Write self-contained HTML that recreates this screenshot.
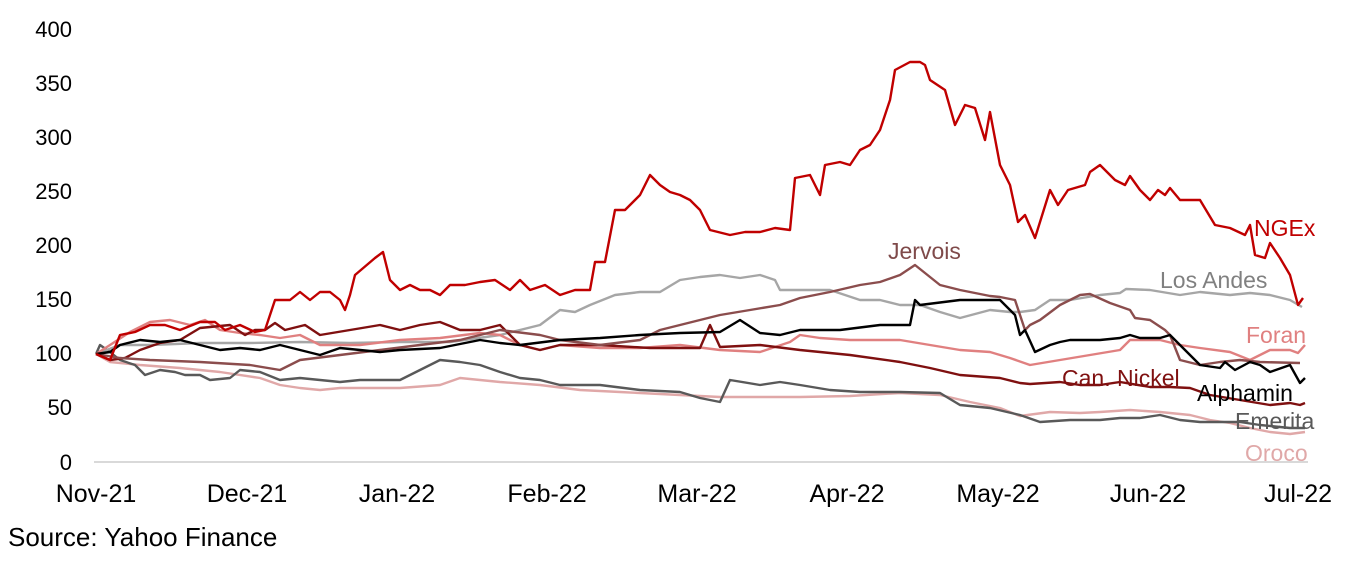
<!DOCTYPE html>
<html><head><style>
body{margin:0;background:#fff;}
svg text{font-family:"Liberation Sans",Arial,sans-serif;}
</style></head><body>
<svg width="1356" height="579" viewBox="0 0 1356 579" xmlns="http://www.w3.org/2000/svg">
<g font-size="22" fill="#000" text-anchor="end">
<text x="72" y="37">400</text><text x="72" y="91">350</text><text x="72" y="145">300</text>
<text x="72" y="199">250</text><text x="72" y="253">200</text><text x="72" y="307">150</text>
<text x="72" y="361">100</text><text x="72" y="415">50</text><text x="72" y="470">0</text>
</g>
<line x1="94" y1="462" x2="1308" y2="462" stroke="#d9d9d9" stroke-width="2"/>
<g font-size="25" fill="#000" text-anchor="middle">
<text x="96" y="502">Nov-21</text><text x="247" y="502">Dec-21</text><text x="397" y="502">Jan-22</text>
<text x="547" y="502">Feb-22</text><text x="697" y="502">Mar-22</text><text x="847" y="502">Apr-22</text>
<text x="998" y="502">May-22</text><text x="1148" y="502">Jun-22</text><text x="1298" y="502">Jul-22</text>
</g>
<text x="8" y="546" font-size="26">Source: Yahoo Finance</text>
<g fill="none" stroke-width="2.4" stroke-linejoin="round">
<polyline stroke="#e0a8a8" points="96,354 110,362 140,365 180,368 220,372 260,378 280,385 300,388 320,390 340,388 360,388 400,388 440,385 460,378 480,380 500,382 540,385 580,390 620,392 680,395 720,397 760,397 800,397 850,396 900,393 940,395 970,402 1000,408 1020,416 1050,412 1080,413 1100,412 1130,410 1160,412 1190,415 1210,420 1230,423 1250,428 1270,432 1290,434 1305,432"/>
<polyline stroke="#595959" points="96,354 100,345 110,352 120,360 135,365 145,375 160,370 175,372 185,375 200,375 210,380 230,378 240,370 260,372 280,380 300,378 320,380 340,382 360,380 400,380 420,370 440,360 460,362 480,365 500,372 520,378 540,380 560,385 600,385 640,390 680,392 700,398 720,402 730,380 760,385 780,382 800,385 830,390 860,392 900,392 940,393 960,405 990,408 1020,415 1040,422 1070,420 1100,420 1120,418 1140,418 1160,415 1180,420 1200,422 1240,422 1260,425 1290,428 1305,428"/>
<polyline stroke="#a6a6a6" points="96,354 120,345 150,345 200,343 250,343 300,342 350,343 400,342 450,342 500,335 540,325 560,310 575,312 590,305 615,295 640,292 660,292 680,280 700,277 720,275 740,278 760,275 775,280 780,290 830,290 860,300 880,300 900,305 920,305 940,312 960,318 990,310 1010,312 1020,312 1035,310 1050,300 1070,300 1100,295 1120,293 1126,289 1150,290 1180,295 1200,292 1230,295 1250,293 1270,295 1290,300 1302,307"/>
<polyline stroke="#e08080" points="96,354 110,345 130,332 150,322 170,320 190,325 205,320 220,330 240,333 260,335 280,338 300,335 320,345 360,345 400,340 440,338 480,333 500,335 520,345 540,350 560,345 600,348 640,348 680,345 720,350 760,352 790,342 800,335 820,338 850,340 900,340 930,345 960,350 990,352 1010,358 1030,365 1060,360 1090,355 1120,350 1130,340 1160,340 1180,345 1200,348 1230,352 1250,360 1270,350 1290,350 1298,353 1305,345"/>
<polyline stroke="#7f1010" points="96,354 110,360 125,358 140,350 160,343 180,340 200,328 230,325 245,335 255,330 265,330 275,323 285,330 305,325 320,335 350,330 380,325 400,330 420,325 440,322 460,330 480,330 500,325 520,345 540,350 560,345 600,345 650,348 700,348 710,325 720,347 760,345 800,350 850,355 900,362 930,368 960,375 1000,378 1020,383 1030,384 1060,382 1080,385 1100,385 1120,382 1150,387 1170,387 1190,388 1210,395 1240,400 1270,405 1290,403 1300,405 1305,403"/>
<polyline stroke="#8b4d4d" points="96,354 120,358 150,360 200,362 250,365 280,370 300,360 340,355 380,350 420,345 460,340 500,330 540,335 560,340 600,345 640,340 660,330 680,325 700,320 720,315 750,310 780,305 800,298 830,292 860,285 880,282 900,275 915,265 925,273 940,285 960,290 990,296 1000,297 1015,300 1025,330 1030,325 1040,320 1060,305 1080,295 1090,294 1110,303 1130,310 1135,318 1150,320 1165,330 1170,335 1180,360 1200,365 1220,362 1240,360 1260,362 1300,363"/>
<polyline stroke="#000" points="96,354 110,352 120,345 140,340 160,342 180,340 200,345 220,350 240,348 260,350 280,345 300,350 320,355 340,348 360,350 380,352 400,350 440,348 480,340 500,343 520,345 560,340 600,338 640,335 680,333 720,332 740,320 760,333 780,335 800,330 840,330 880,325 910,325 915,300 920,305 960,300 1000,300 1015,315 1020,335 1025,330 1035,352 1050,345 1060,342 1070,340 1100,340 1120,338 1130,335 1140,338 1160,338 1170,335 1180,345 1200,365 1220,368 1225,362 1235,370 1250,362 1260,365 1270,372 1290,365 1300,383 1305,378"/>
<polyline stroke="#c00000" points="96,354 110,360 120,335 135,332 150,325 165,325 180,330 200,322 215,322 225,330 240,325 255,332 265,330 275,300 290,300 300,292 310,300 320,292 330,292 340,300 345,310 350,295 355,275 375,258 383,252 390,280 400,290 410,285 420,290 430,290 440,295 450,285 465,285 480,282 495,280 510,290 520,280 530,290 545,285 560,295 575,290 590,290 595,262 605,262 615,210 625,210 640,195 650,175 660,185 670,192 680,195 690,200 700,210 710,230 730,235 745,232 760,232 775,228 790,230 795,178 810,175 820,195 825,165 840,162 850,165 860,150 870,145 880,130 890,100 895,70 910,62 920,62 925,65 930,80 945,90 955,125 965,105 975,108 985,140 990,112 1000,165 1010,185 1018,222 1025,215 1035,238 1050,190 1058,205 1068,190 1085,185 1090,172 1100,165 1115,180 1125,185 1130,176 1140,190 1150,200 1158,190 1165,195 1170,188 1180,200 1200,200 1215,225 1230,228 1245,235 1250,225 1255,255 1265,258 1270,243 1280,258 1290,275 1298,305 1303,298"/>
</g>
<g font-size="23">
<text x="1254" y="236" fill="#c00000">NGEx</text>
<text x="888" y="259" fill="#7f4a4a">Jervois</text>
<text x="1160" y="288" fill="#808080">Los Andes</text>
<text x="1246" y="343" fill="#e08080">Foran</text>
<text x="1062" y="386" fill="#7f1010">Can. Nickel</text>
<text x="1197" y="401" fill="#000">Alphamin</text>
<text x="1235" y="429" fill="#595959">Emerita</text>
<text x="1245" y="461" fill="#e0a8a8">Oroco</text>
</g>
</svg>
</body></html>
